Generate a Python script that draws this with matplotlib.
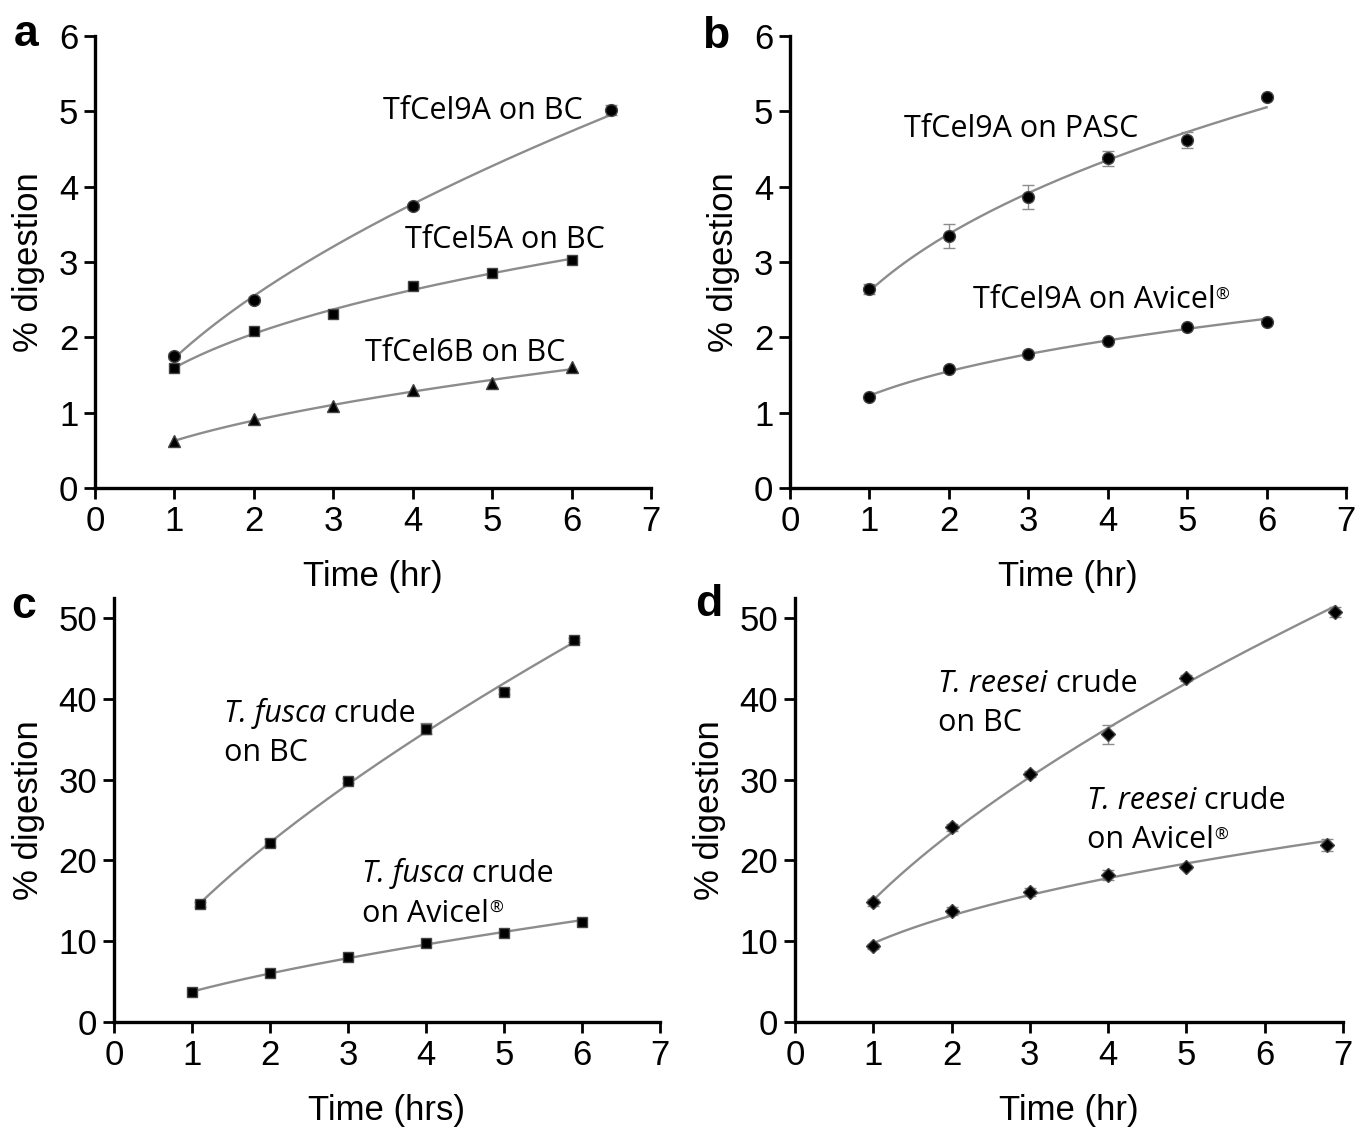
import matplotlib
matplotlib.use('Agg')
import matplotlib.pyplot as plt
import numpy as np

# ---- data ----
# panel a
a_x9 = [1, 2, 4, 6.5]
a_y9 = [1.75, 2.50, 3.74, 5.02]
a_e9 = [0.04, 0.03, 0.03, 0.07]
a_x5 = [1, 2, 3, 4, 5, 6]
a_y5 = [1.59, 2.08, 2.31, 2.68, 2.85, 3.03]
a_x6 = [1, 2, 3, 4, 5, 6]
a_y6 = [0.62, 0.92, 1.09, 1.30, 1.39, 1.60]

# panel b
b_x = [1, 2, 3, 4, 5, 6]
b_pasc = [2.64, 3.35, 3.86, 4.38, 4.62, 5.19]
b_pasc_err = [0.07, 0.16, 0.16, 0.10, 0.11, 0.03]
b_avi = [1.21, 1.58, 1.78, 1.95, 2.14, 2.21]

# panel c
c_x_bc = [1.1, 2, 3, 4, 5, 5.9]
c_bc = [14.6, 22.2, 29.9, 36.3, 40.9, 47.3]
c_bc_err = [0.3, 0.4, 0.3, 0.7, 0.3, 0.3]
c_x_avi = [1, 2, 3, 4, 5, 6]
c_avi = [3.7, 6.1, 8.0, 9.8, 11.0, 12.4]

# panel d
d_x_bc = [1, 2, 3, 4, 5, 6.9]
d_bc = [14.8, 24.1, 30.7, 35.6, 42.6, 50.8]
d_bc_err = [0.4, 0.4, 0.4, 1.2, 0.4, 0.6]
d_x_avi = [1, 2, 3, 4, 5, 6.8]
d_avi = [9.4, 13.7, 16.1, 18.2, 19.2, 21.9]
d_avi_err = [0.3, 0.5, 0.5, 0.6, 0.3, 0.7]

W, H = 1358, 1129
fig = plt.figure(figsize=(W / 100, H / 100), dpi=100)

TICK_FONT = ['Liberation Sans', 'DejaVu Sans']
NOTE_FONT = ['Open Sans', 'DejaVu Sans']
GRAY = '#8c8c8c'


def make_axes(left, right, bottom, top, ymax, yticks, xlabel, letter, lpos):
    ax = fig.add_axes([left / W, 1 - bottom / H, (right - left) / W, (bottom - top) / H])
    ax.set_xlim(0, 7)
    ax.set_ylim(0, ymax)
    ax.set_xticks(range(8))
    ax.set_yticks(yticks)
    for s in ['top', 'right']:
        ax.spines[s].set_visible(False)
    for s in ['left', 'bottom']:
        ax.spines[s].set_linewidth(2.4)
    ax.tick_params(width=2.0, length=8, labelsize=25, pad=4)
    for lab in ax.get_xticklabels() + ax.get_yticklabels():
        lab.set_family(TICK_FONT)
    ax.set_xlabel(xlabel, fontsize=25, family=TICK_FONT, labelpad=16)
    ax.set_ylabel('% digestion', fontsize=25, family=TICK_FONT, labelpad=10)
    # panel letter, placed in figure pixels
    fig.text(lpos[0] / W, 1 - lpos[1] / H, letter, fontsize=32, fontweight='bold',
             family=['Liberation Sans Narrow', 'Liberation Sans'],
             ha='center', va='center')
    return ax


def fit_curve(ax, x, y):
    # power-law fit through the points, drawn over the data range
    x = np.asarray(x, float)
    y = np.asarray(y, float)
    b, la = np.polyfit(np.log(x), np.log(y), 1)
    xs = np.linspace(x.min(), x.max(), 200)
    ax.plot(xs, np.exp(la) * xs ** b, color=GRAY, lw=1.7, zorder=2)


def points(ax, x, y, marker, ms, err=None):
    if err is not None:
        ax.errorbar(x, y, yerr=err, fmt='none', ecolor=GRAY, elinewidth=1.0,
                    capsize=4, capthick=1.0, zorder=3)
    ax.plot(x, y, linestyle='none', marker=marker, ms=ms, color='black',
            markeredgecolor='#444444', zorder=4)


def note(ax, x, y, italic, normal, reg=False):
    # label with optional italic lead and small registered sign
    t = ax.text(x, y, italic if italic else normal, fontsize=22, family=NOTE_FONT,
                style='italic' if italic else 'normal', va='baseline', ha='left')
    last = t
    if italic and normal:
        last = ax.annotate(normal, xy=(1, 0), xycoords=t, fontsize=22,
                           family=NOTE_FONT, va='bottom', ha='left')
    if reg:
        ax.annotate('\u00ae', xy=(1, 0.92), xycoords=last, fontsize=12,
                    family=NOTE_FONT, va='top', ha='left')


# ---- panel a ----
ax = make_axes(95, 651, 488, 36, 6, range(7), 'Time (hr)', 'a', (26, 34))
fit_curve(ax, a_x9, a_y9)
fit_curve(ax, a_x5, a_y5)
fit_curve(ax, a_x6, a_y6)
points(ax, a_x9, a_y9, 'o', 8.5, a_e9)
points(ax, a_x5, a_y5, 's', 7)
points(ax, a_x6, a_y6, '^', 8)
note(ax, 3.63, 4.90, None, 'TfCel9A on BC')
note(ax, 3.90, 3.19, None, 'TfCel5A on BC')
note(ax, 3.40, 1.68, None, 'TfCel6B on BC')

# ---- panel b ----
ax = make_axes(790, 1346, 488, 36, 6, range(7), 'Time (hr)', 'b', (716, 36))
fit_curve(ax, b_x, b_pasc)
fit_curve(ax, b_x, b_avi)
points(ax, b_x, b_pasc, 'o', 8.5, b_pasc_err)
points(ax, b_x, b_avi, 'o', 8.5)
note(ax, 1.44, 4.66, None, 'TfCel9A on PASC')
note(ax, 2.30, 2.39, None, 'TfCel9A on Avicel', reg=True)

# ---- panel c ----
ax = make_axes(114, 660, 1022, 598, 52.5, range(0, 51, 10), 'Time (hrs)', 'c', (24, 606))
fit_curve(ax, c_x_bc, c_bc)
fit_curve(ax, c_x_avi, c_avi)
points(ax, c_x_bc, c_bc, 's', 7, c_bc_err)
points(ax, c_x_avi, c_avi, 's', 7)
note(ax, 1.41, 37.2, 'T. fusca', ' crude')
note(ax, 1.41, 32.3, None, 'on BC')
note(ax, 3.18, 17.3, 'T. fusca', ' crude')
note(ax, 3.18, 12.4, None, 'on Avicel', reg=True)

# ---- panel d ----
ax = make_axes(795, 1343, 1022, 598, 52.5, range(0, 51, 10), 'Time (hr)', 'd', (709, 604))
fit_curve(ax, d_x_bc, d_bc)
fit_curve(ax, d_x_avi, d_avi)
points(ax, d_x_bc, d_bc, 'D', 7, d_bc_err)
points(ax, d_x_avi, d_avi, 'D', 7, d_avi_err)
note(ax, 1.83, 40.9, 'T. reesei', ' crude')
note(ax, 1.83, 36.0, None, 'on BC')
note(ax, 3.73, 26.4, 'T. reesei', ' crude')
note(ax, 3.73, 21.5, None, 'on Avicel', reg=True)

fig.savefig('out.png', dpi=100)
